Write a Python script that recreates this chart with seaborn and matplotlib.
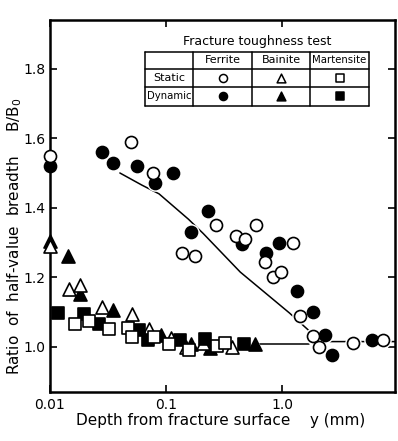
import numpy as np
import pandas as pd
import seaborn as sns
import matplotlib.pyplot as plt

# ---- data (depth in mm, ratio B/B0) ----
ferrite_static_depth = [0.010, 0.050, 0.077, 0.138, 0.178, 0.27, 0.40, 0.48, 0.60, 0.71,
                        0.835, 0.97, 1.25, 1.42, 1.85, 2.1, 4.1, 7.4]
ferrite_static_ratio = [1.55, 1.59, 1.50, 1.27, 1.26, 1.35, 1.32, 1.31, 1.35, 1.245,
                        1.20, 1.215, 1.30, 1.09, 1.03, 1.00, 1.01, 1.02]

ferrite_dynamic_depth = [0.010, 0.028, 0.035, 0.056, 0.081, 0.115, 0.164, 0.23, 0.45, 0.72,
                         0.94, 1.34, 1.85, 2.36, 2.7, 5.9]
ferrite_dynamic_ratio = [1.52, 1.56, 1.53, 1.52, 1.47, 1.50, 1.33, 1.39, 1.295, 1.27,
                         1.30, 1.16, 1.10, 1.035, 0.975, 1.02]

bainite_static_depth = [0.010, 0.0147, 0.018, 0.0283, 0.0506, 0.072, 0.111, 0.15, 0.21, 0.37]
bainite_static_ratio = [1.29, 1.165, 1.178, 1.114, 1.094, 1.05, 1.026, 0.999, 1.012, 1.0]

bainite_dynamic_depth = [0.010, 0.0143, 0.018, 0.0346, 0.091, 0.165, 0.238, 0.58]
bainite_dynamic_ratio = [1.305, 1.262, 1.152, 1.107, 1.035, 1.009, 0.997, 1.008]

martensite_static_depth = [0.0165, 0.0215, 0.032, 0.047, 0.051, 0.079, 0.106, 0.158, 0.275, 0.32]
martensite_static_ratio = [1.067, 1.074, 1.05, 1.055, 1.029, 1.027, 1.009, 0.99, 1.002, 1.01]

martensite_dynamic_depth = [0.0118, 0.0195, 0.0263, 0.0586, 0.070, 0.133, 0.215, 0.47]
martensite_dynamic_ratio = [1.097, 1.095, 1.065, 1.048, 1.019, 1.019, 1.023, 1.009]

# trend lines
ferrite_curve_depth = [0.040, 0.062, 0.087, 0.156, 0.209, 0.436, 1.16, 1.82, 2.6, 9.4]
ferrite_curve_ratio = [1.50, 1.465, 1.44, 1.367, 1.326, 1.215, 1.097, 1.038, 1.015, 1.015]
bm_curve_depth = [0.6, 1.7]
bm_curve_ratio = [1.008, 1.008]

steels = ["Ferrite", "Bainite", "Martensite"]
tests = ["Static", "Dynamic"]

rows = []
for steel, test, xs, ys in [
    ("Ferrite", "Static", ferrite_static_depth, ferrite_static_ratio),
    ("Ferrite", "Dynamic", ferrite_dynamic_depth, ferrite_dynamic_ratio),
    ("Bainite", "Static", bainite_static_depth, bainite_static_ratio),
    ("Bainite", "Dynamic", bainite_dynamic_depth, bainite_dynamic_ratio),
    ("Martensite", "Static", martensite_static_depth, martensite_static_ratio),
    ("Martensite", "Dynamic", martensite_dynamic_depth, martensite_dynamic_ratio),
]:
    for x, y in zip(xs, ys):
        rows.append({"depth": x, "ratio": y, "steel": steel, "test": test})
df = pd.DataFrame(rows)

markers = {"Ferrite": "o", "Bainite": "^", "Martensite": "s"}
sizes = {"Ferrite": 75, "Bainite": 88, "Martensite": 70}

sns.set_style("ticks")
plt.rcParams["font.family"] = ["DejaVu Sans"]
plt.rcParams["text.color"] = "black"
plt.rcParams["axes.labelcolor"] = "black"

fig = plt.figure(figsize=(3.98, 4.41), dpi=100)
# axes box in pixels: left 50, right 395, top 20, bottom 392
AX_L, AX_R, AX_T, AX_B = 50, 395, 20, 392
ax = fig.add_axes([AX_L / 398, (441 - AX_B) / 441, (AX_R - AX_L) / 398, (AX_B - AX_T) / 441])

# lines first
sns.lineplot(x=ferrite_curve_depth, y=ferrite_curve_ratio, ax=ax, color="black",
             lw=1.1, sort=False, zorder=1)
sns.lineplot(x=bm_curve_depth, y=bm_curve_ratio, ax=ax, color="black",
             lw=1.1, sort=False, zorder=1)

# white halos that clear the lines around the markers
for steel in steels:
    sub = df[df["steel"] == steel]
    sns.scatterplot(data=sub, x="depth", y="ratio", marker=markers[steel],
                    s=sizes[steel] * 1.9, color="white", edgecolor="white",
                    linewidth=0, ax=ax, zorder=2, legend=False)

# markers
for steel in steels:
    for test in ["Dynamic", "Static"]:
        sub = df[(df["steel"] == steel) & (df["test"] == test)]
        face = "black" if test == "Dynamic" else "white"
        sns.scatterplot(data=sub, x="depth", y="ratio", marker=markers[steel],
                        s=sizes[steel], color=face, edgecolor="black",
                        linewidth=1.2, ax=ax, zorder=3, legend=False, clip_on=False)

ax.set_xscale("log")
ax.set_xlim(0.01, 9.4)
ax.set_ylim(0.87, 1.94)
ax.set_xticks([0.01, 0.1, 1.0])
ax.set_xticklabels(["0.01", "0.1", "1.0"])
ax.xaxis.set_minor_locator(plt.NullLocator())
ax.set_yticks([1.0, 1.2, 1.4, 1.6, 1.8])
ax.set_yticklabels(["1.0", "1.2", "1.4", "1.6", "1.8"])
ax.tick_params(axis="both", which="major", direction="in", length=5, width=1.2,
               labelsize=10, top=True, right=True, pad=4, colors="black")
ax.tick_params(axis="y", pad=3)
for sp in ax.spines.values():
    sp.set_linewidth(1.8)
    sp.set_color("black")
    sp.set_visible(True)

ax.set_xlabel("")
ax.set_ylabel("")
fig.text(221 / 398, 1 - 421 / 441, "Depth from fracture surface    y (mm)",
         ha="center", va="center", fontsize=11, color="black")
fig.text(15 / 398, 1 - 236 / 441, "Ratio  of  half-value  breadth     B/B$_\\mathregular{0}$",
         ha="center", va="center", rotation=90, fontsize=11, color="black")


# ---- legend table drawn inside the axes ----
def px(x, y):
    return (x - AX_L) / (AX_R - AX_L), (AX_B - y) / (AX_B - AX_T)


col_edges = [145, 193, 252, 310, 369]
row_edges = [52, 69, 87, 106]
for ry in row_edges:
    (x0, y0), (x1, _) = px(col_edges[0], ry), px(col_edges[-1], ry)
    ax.plot([x0, x1], [y0, y0], transform=ax.transAxes, color="black", lw=1.1, clip_on=False)
for cx in col_edges:
    (x0, y0), (_, y1) = px(cx, row_edges[0]), px(cx, row_edges[-1])
    ax.plot([x0, x0], [y0, y1], transform=ax.transAxes, color="black", lw=1.1, clip_on=False)

tx, ty = px(257, 42)
ax.text(tx, ty, "Fracture toughness test", transform=ax.transAxes, ha="center",
        va="center", fontsize=9)
for i, steel in enumerate(steels):
    cx = (col_edges[i + 1] + col_edges[i + 2]) / 2
    hx, hy = px(cx, (row_edges[0] + row_edges[1]) / 2)
    ax.text(hx, hy, steel, transform=ax.transAxes, ha="center", va="center",
            fontsize=8 if steel != "Martensite" else 7.3)
    for j, test in enumerate(tests):
        mx, my = px(cx, (row_edges[j + 1] + row_edges[j + 2]) / 2)
        face = "black" if test == "Dynamic" else "white"
        ax.scatter([mx], [my], transform=ax.transAxes, marker=markers[steel],
                   s=sizes[steel] * 0.45, facecolor=face, edgecolor="black",
                   linewidth=1.1, zorder=4, clip_on=False)
for j, test in enumerate(tests):
    lx, ly = px((col_edges[0] + col_edges[1]) / 2, (row_edges[j + 1] + row_edges[j + 2]) / 2)
    ax.text(lx, ly, test, transform=ax.transAxes, ha="center", va="center",
            fontsize=8 if test == "Static" else 7.3)

fig.savefig("out.png", dpi=100)
